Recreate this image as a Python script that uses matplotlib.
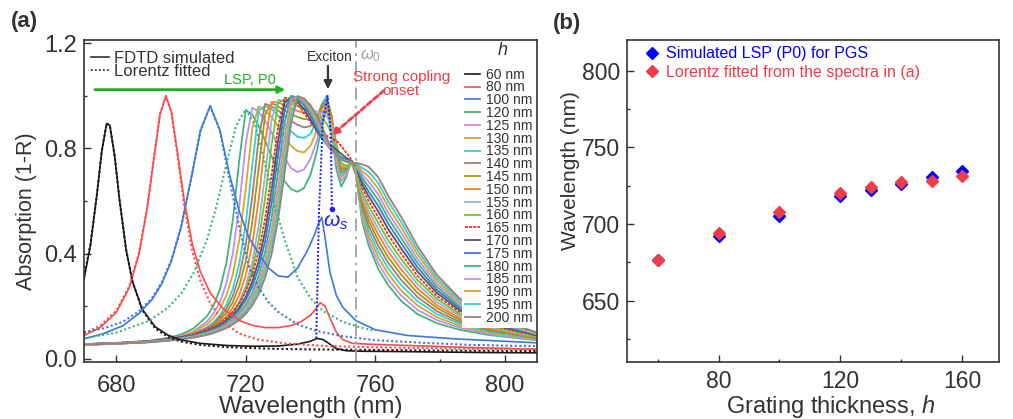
import matplotlib.pyplot as plt
from matplotlib.lines import Line2D
from matplotlib.ticker import MultipleLocator

plt.rcParams['font.family'] = ['Liberation Sans', 'DejaVu Sans']
plt.rcParams['mathtext.fontset'] = 'custom'
plt.rcParams['mathtext.rm'] = 'Liberation Sans'
plt.rcParams['mathtext.it'] = 'Liberation Sans:italic'

# ------------------------------------------------------------------ panel (a) data
wl_60 = [670, 672, 674, 675.5, 677, 678, 679.5, 681, 683, 685, 688, 692, 696, 700, 706,
         714, 722, 730, 736, 740, 742, 744, 746, 748, 751, 756, 765, 780, 795, 810]
abs_60 = [0.302, 0.432, 0.625, 0.79, 0.895, 0.888, 0.77, 0.603, 0.416, 0.293, 0.188, 0.121,
          0.089, 0.071, 0.058, 0.05, 0.047, 0.048, 0.055, 0.066, 0.077, 0.072, 0.055, 0.038,
          0.03, 0.028, 0.027, 0.025, 0.023, 0.022]
wl_60_fit = [670, 672, 674, 675.5, 677, 678, 679.5, 681, 683, 685, 688, 692, 696, 700, 706,
             714, 722, 730, 740, 750, 760, 775, 790, 810]
abs_60_fit = [0.31, 0.435, 0.625, 0.79, 0.895, 0.888, 0.77, 0.603, 0.416, 0.293, 0.185, 0.115,
              0.082, 0.065, 0.052, 0.044, 0.04, 0.037, 0.035, 0.034, 0.033, 0.031, 0.03, 0.029]

wl_80 = [670, 675, 680, 684, 687, 689.5, 691.5, 693.5, 695.3, 697, 699, 701, 703.5, 706, 709,
         713, 718, 722, 726, 730, 734, 737, 740, 742, 743, 744.5, 746, 748, 750, 753, 758, 770,
         790, 810]
abs_80 = [0.088, 0.118, 0.176, 0.27, 0.398, 0.57, 0.752, 0.93, 1.0, 0.94, 0.775, 0.6, 0.435,
          0.33, 0.25, 0.19, 0.145, 0.127, 0.118, 0.118, 0.126, 0.14, 0.165, 0.195, 0.213, 0.2,
          0.155, 0.1, 0.072, 0.058, 0.055, 0.05, 0.042, 0.036]
wl_80_fit = [670, 675, 680, 684, 687, 689.5, 691.5, 693.5, 695.3, 697, 699, 701, 703.5, 706,
             709, 713, 718, 724, 732, 745, 760, 785, 810]
abs_80_fit = [0.095, 0.125, 0.183, 0.275, 0.402, 0.572, 0.754, 0.931, 1.0, 0.938, 0.764, 0.58,
              0.407, 0.295, 0.212, 0.14, 0.095, 0.072, 0.058, 0.048, 0.043, 0.038, 0.035]

wl_100 = [670, 676, 682, 687, 691, 694, 697, 700, 703, 706, 709, 712, 715, 718, 721, 724, 727,
          730, 733, 736, 739, 741, 742.5, 743.5, 744.5, 746, 748, 750, 754, 760, 770, 785, 810]
abs_100 = [0.075, 0.095, 0.125, 0.172, 0.224, 0.284, 0.371, 0.5, 0.677, 0.868, 0.962, 0.87,
           0.7, 0.56, 0.46, 0.4, 0.345, 0.315, 0.31, 0.345, 0.41, 0.465, 0.515, 0.538, 0.46,
           0.33, 0.24, 0.195, 0.145, 0.11, 0.088, 0.075, 0.06]
wl_100_fit = [670, 676, 682, 687, 691, 694, 697, 700, 703, 706, 709, 712, 715, 718, 721, 724,
              727, 730, 736, 742, 750, 760, 775, 790, 810]
abs_100_fit = [0.1, 0.115, 0.14, 0.18, 0.23, 0.29, 0.375, 0.5, 0.68, 0.868, 0.962, 0.868, 0.68,
               0.5, 0.35, 0.27, 0.215, 0.178, 0.13, 0.105, 0.085, 0.07, 0.06, 0.052, 0.047]

wl_120_fit = [670, 680, 690, 696, 700, 704, 708, 711, 714, 717, 720, 723, 726, 729, 732, 736,
              740, 744, 750, 755, 760]
abs_120_fit = [0.077, 0.099, 0.143, 0.194, 0.247, 0.329, 0.453, 0.583, 0.74, 0.887, 0.95,
               0.887, 0.74, 0.583, 0.453, 0.31, 0.23, 0.18, 0.14, 0.12, 0.105]

# exciton marker (blue dotted)
wl_exc = [741.8, 742.6, 743.8, 745.3, 746.3, 746.6]
abs_exc = [0.077, 0.55, 0.9, 1.0, 0.85, 0.57]

# common wavelength grid for h = 120 ... 200 nm
wl_grid = [670, 680, 690, 696, 700, 704, 708, 710, 712, 714, 716, 718, 720, 722, 724, 726, 728,
           730, 732, 734, 736, 738, 740, 742, 743.5, 745, 746.5, 748, 749.5, 751, 752.5, 754,
           756, 758, 761, 764, 768, 773, 779, 786, 795, 810]

abs_120 = [0.055, 0.058, 0.067, 0.079, 0.092, 0.116,
           0.161, 0.201, 0.263, 0.364, 0.527, 0.757, 0.945, 0.93, 0.885, 0.83, 0.77, 0.715,
           0.675, 0.645, 0.635, 0.65, 0.70, 0.79,
           0.89, 0.95, 0.87, 0.72, 0.655, 0.69, 0.75, 0.70,
           0.52, 0.43, 0.34, 0.28, 0.22, 0.17, 0.135, 0.11, 0.09, 0.07]
abs_125 = [0.053, 0.057, 0.065, 0.075, 0.086, 0.105,
           0.141, 0.171, 0.215, 0.286, 0.40, 0.582, 0.82, 0.955, 0.94, 0.905, 0.86, 0.81,
           0.765, 0.725, 0.71, 0.72, 0.76, 0.83,
           0.92, 0.97, 0.89, 0.75, 0.675, 0.70, 0.75, 0.703,
           0.534, 0.449, 0.362, 0.301, 0.24, 0.186, 0.147, 0.118, 0.094, 0.072]
abs_130 = [0.053, 0.057, 0.065, 0.074, 0.084, 0.101,
           0.13, 0.154, 0.189, 0.24, 0.321, 0.451, 0.648, 0.875, 0.96, 0.945, 0.92, 0.885,
           0.845, 0.81, 0.79, 0.785, 0.81, 0.87,
           0.95, 0.99, 0.91, 0.77, 0.69, 0.71, 0.75, 0.706,
           0.548, 0.468, 0.384, 0.323, 0.26, 0.203, 0.158, 0.125, 0.099, 0.074]
abs_135 = [0.053, 0.056, 0.063, 0.072, 0.081, 0.095,
           0.119, 0.138, 0.165, 0.205, 0.266, 0.362, 0.514, 0.733, 0.945, 0.962, 0.95, 0.925,
           0.895, 0.865, 0.845, 0.84, 0.855, 0.91,
           0.97, 1.0, 0.925, 0.79, 0.70, 0.715, 0.75, 0.708,
           0.561, 0.486, 0.406, 0.344, 0.28, 0.219, 0.17, 0.133, 0.103, 0.076]
abs_140 = [0.053, 0.057, 0.064, 0.072, 0.080, 0.094,
           0.116, 0.132, 0.156, 0.189, 0.239, 0.315, 0.434, 0.616, 0.84, 0.97, 0.96, 0.945,
           0.925, 0.905, 0.89, 0.88, 0.885, 0.92,
           0.965, 0.985, 0.925, 0.80, 0.71, 0.72, 0.748, 0.711,
           0.575, 0.505, 0.428, 0.365, 0.30, 0.235, 0.181, 0.14, 0.108, 0.078]
abs_145 = [0.053, 0.057, 0.063, 0.071, 0.079, 0.091,
           0.111, 0.126, 0.146, 0.174, 0.215, 0.277, 0.372, 0.518, 0.727, 0.93, 0.972, 0.96,
           0.945, 0.93, 0.92, 0.912, 0.91, 0.925,
           0.955, 0.97, 0.92, 0.81, 0.72, 0.725, 0.746, 0.714,
           0.589, 0.524, 0.449, 0.386, 0.32, 0.251, 0.193, 0.148, 0.112, 0.079]
abs_150 = [0.053, 0.056, 0.063, 0.07, 0.078, 0.089,
           0.106, 0.119, 0.137, 0.16, 0.194, 0.243, 0.318, 0.434, 0.607, 0.826, 0.978, 0.975,
           0.965, 0.953, 0.943, 0.935, 0.93, 0.93,
           0.94, 0.95, 0.91, 0.82, 0.73, 0.728, 0.745, 0.717,
           0.603, 0.543, 0.471, 0.408, 0.34, 0.268, 0.204, 0.155, 0.116, 0.081]
abs_155 = [0.053, 0.056, 0.063, 0.07, 0.076, 0.086,
           0.102, 0.114, 0.129, 0.149, 0.177, 0.217, 0.277, 0.368, 0.507, 0.703, 0.912, 0.985,
           0.98, 0.97, 0.96, 0.952, 0.945, 0.94,
           0.935, 0.925, 0.885, 0.81, 0.74, 0.732, 0.744, 0.72,
           0.616, 0.561, 0.493, 0.429, 0.36, 0.284, 0.216, 0.163, 0.121, 0.083]
abs_160 = [0.054, 0.058, 0.064, 0.071, 0.078, 0.089,
           0.104, 0.115, 0.13, 0.149, 0.175, 0.21, 0.262, 0.338, 0.451, 0.614, 0.816, 0.973,
           0.988, 0.98, 0.965, 0.95, 0.937, 0.927,
           0.915, 0.895, 0.86, 0.80, 0.745, 0.735, 0.743, 0.723,
           0.63, 0.58, 0.515, 0.45, 0.38, 0.30, 0.228, 0.17, 0.125, 0.085]
abs_165 = [0.055, 0.06, 0.068, 0.075, 0.083, 0.094,
           0.11, 0.121, 0.135, 0.153, 0.178, 0.21, 0.255, 0.318, 0.408, 0.534, 0.702, 0.884,
           0.993, 0.99, 0.97, 0.935, 0.90, 0.87,
           0.857, 0.848, 0.838, 0.83, 0.81, 0.785, 0.76, 0.73,
           0.65, 0.599, 0.537, 0.471, 0.40, 0.316, 0.239, 0.178, 0.129, 0.087]
abs_170 = [0.055, 0.059, 0.066, 0.074, 0.081, 0.09,
           0.105, 0.115, 0.128, 0.145, 0.166, 0.195, 0.235, 0.292, 0.372, 0.486, 0.643, 0.83,
           0.975, 0.995, 0.98, 0.95, 0.91, 0.865,
           0.84, 0.825, 0.81, 0.795, 0.78, 0.765, 0.752, 0.735,
           0.662, 0.618, 0.559, 0.493, 0.42, 0.333, 0.251, 0.185, 0.134, 0.089]
abs_175 = [0.055, 0.059, 0.066, 0.073, 0.079, 0.089,
           0.103, 0.112, 0.124, 0.14, 0.16, 0.186, 0.223, 0.273, 0.345, 0.448, 0.593, 0.776,
           0.946, 1.0, 0.99, 0.965, 0.925, 0.875,
           0.84, 0.815, 0.795, 0.78, 0.768, 0.758, 0.75, 0.738,
           0.675, 0.636, 0.581, 0.514, 0.44, 0.349, 0.262, 0.193, 0.138, 0.091]
abs_180 = [0.054, 0.058, 0.065, 0.071, 0.077, 0.086,
           0.099, 0.107, 0.118, 0.132, 0.15, 0.174, 0.206, 0.251, 0.315, 0.407, 0.538, 0.713,
           0.899, 1.0, 0.995, 0.975, 0.94, 0.89,
           0.85, 0.815, 0.79, 0.772, 0.76, 0.752, 0.748, 0.74,
           0.688, 0.655, 0.603, 0.535, 0.46, 0.365, 0.274, 0.20, 0.143, 0.093]
abs_185 = [0.054, 0.058, 0.064, 0.07, 0.076, 0.084,
           0.097, 0.105, 0.115, 0.128, 0.144, 0.166, 0.195, 0.236, 0.293, 0.375, 0.494, 0.656,
           0.847, 0.986, 0.998, 0.98, 0.948, 0.90,
           0.86, 0.82, 0.792, 0.772, 0.758, 0.75, 0.746, 0.742,
           0.70, 0.674, 0.624, 0.556, 0.48, 0.381, 0.285, 0.208, 0.147, 0.094]
abs_190 = [0.054, 0.058, 0.064, 0.07, 0.075, 0.083,
           0.095, 0.102, 0.112, 0.124, 0.139, 0.16, 0.187, 0.224, 0.277, 0.352, 0.46, 0.611,
           0.80, 0.962, 0.998, 0.985, 0.955, 0.91,
           0.87, 0.83, 0.797, 0.775, 0.76, 0.751, 0.746, 0.743,
           0.713, 0.693, 0.646, 0.578, 0.50, 0.398, 0.297, 0.215, 0.151, 0.096]
abs_195 = [0.054, 0.057, 0.063, 0.069, 0.075, 0.082,
           0.093, 0.10, 0.109, 0.12, 0.135, 0.154, 0.179, 0.214, 0.262, 0.331, 0.429, 0.569,
           0.751, 0.93, 1.0, 0.99, 0.962, 0.92,
           0.878, 0.835, 0.80, 0.777, 0.761, 0.752, 0.747, 0.744,
           0.726, 0.711, 0.668, 0.599, 0.52, 0.414, 0.308, 0.223, 0.156, 0.098]
abs_200 = [0.054, 0.057, 0.062, 0.068, 0.073, 0.08,
           0.09, 0.097, 0.106, 0.116, 0.13, 0.147, 0.17, 0.202, 0.246, 0.309, 0.399, 0.53,
           0.706, 0.896, 0.998, 0.99, 0.965, 0.925,
           0.885, 0.84, 0.80, 0.775, 0.758, 0.75, 0.746, 0.745,
           0.74, 0.73, 0.69, 0.62, 0.54, 0.43, 0.32, 0.23, 0.16, 0.10]

thick_family = [120, 125, 130, 135, 140, 145, 150, 155, 160, 165, 170, 175, 180, 185, 190, 195, 200]
family = [abs_120, abs_125, abs_130, abs_135, abs_140, abs_145, abs_150, abs_155, abs_160,
          abs_165, abs_170, abs_175, abs_180, abs_185, abs_190, abs_195, abs_200]
family_colors = ['#3cb878', '#c58cf2', '#d9a626', '#2ed3d3', '#a47a7a', '#9c9a14', '#ff7d2a',
                 '#8fb3e3', '#6cc92a', '#ff2424', '#555555', '#3a78e0', '#3cb878', '#c58cf2',
                 '#d9a626', '#2ed3d3', '#a47a7a']

# ------------------------------------------------------------------ panel (b) data
h_b = [60, 80, 100, 120, 130, 140, 150, 160]
lsp_sim = [676.5, 692.0, 705.4, 718.5, 722.2, 726.0, 730.4, 734.3]
lsp_fit = [676.5, 693.9, 707.6, 720.0, 723.9, 727.6, 728.2, 731.5]

# ------------------------------------------------------------------ figure
DARK = '#333333'
RED = '#f03c46'
BLUE = '#0000ff'
GREEN = '#22b022'

fig = plt.figure(figsize=(10.13, 4.19), dpi=100)
ax = fig.add_axes([0.0829, 0.136, 0.4472, 0.7685])
axb = fig.add_axes([0.619, 0.136, 0.3672, 0.7685])

dots = (0, (1, 1.2))

# family of spectra
family_handles = []
for h, y, c in zip(thick_family, family, family_colors):
    ls = (0, (1.6, 0.7)) if h == 165 else '-'
    line, = ax.plot(wl_grid, y, color=c, lw=1.3, ls=ls, label=f'{h} nm')
    family_handles.append(line)

# thin gratings: FDTD (solid) + Lorentz fit (dotted)
l60, = ax.plot(wl_60, abs_60, color='#1a1a1a', lw=1.2, label='60 nm')
l80, = ax.plot(wl_80, abs_80, color='#ff4a4a', lw=1.2, label='80 nm')
l100, = ax.plot(wl_100, abs_100, color='#3a78e0', lw=1.2, label='100 nm')
ax.plot(wl_60_fit, abs_60_fit, color='#1a1a1a', lw=1.5, ls=dots)
ax.plot(wl_80_fit, abs_80_fit, color='#ff4a4a', lw=1.5, ls=dots)
ax.plot(wl_100_fit, abs_100_fit, color='#3a78e0', lw=1.5, ls=dots)
ax.plot(wl_120_fit, abs_120_fit, color='#3cb878', lw=1.5, ls=dots)

# exciton line and markers
ax.plot(wl_exc, abs_exc, color='#1a1aff', lw=1.4, ls=(0, (1, 1)))
ax.plot(wl_exc[-1], abs_exc[-1], 'o', color='#1a1aff', ms=3)
ax.text(747.8, 0.52, r'$\omega_s$', color='#1a1aff', fontsize=15, ha='center', va='center')

ax.axvline(754, color='#a0a0a0', lw=1.3, ls=(0, (7, 3, 1.5, 3)))
ax.text(755.3, 1.155, r'$\omega_0$', color='#a0a0a0', fontsize=12, ha='left', va='center')

ax.text(745.9, 1.15, 'Exciton', color=DARK, fontsize=10, ha='center', va='center')
ax.annotate('', xy=(745.4, 1.015), xytext=(745.4, 1.125),
            arrowprops=dict(arrowstyle='-|>', color=DARK, lw=1.6, mutation_scale=12))

ax.text(768.1, 1.045, 'Strong copling\nonset', color=RED, fontsize=11, ha='center',
        va='center', linespacing=0.95)
ax.annotate('', xy=(745.9, 0.843), xytext=(763.4, 1.028),
            arrowprops=dict(arrowstyle='-|>', color=RED, lw=2, ls=(0, (2, 1)),
                            mutation_scale=10))

ax.annotate('', xy=(733.1, 1.024), xytext=(672.5, 1.024),
            arrowprops=dict(arrowstyle='-|>', color=GREEN, lw=2, mutation_scale=10))
ax.text(721.3, 1.06, 'LSP, P0', color=GREEN, fontsize=10.5, ha='center', va='center')

# legends
leg1 = ax.legend([Line2D([], [], color=DARK, lw=1.2), Line2D([], [], color=DARK, lw=1.3, ls=dots)],
                 ['FDTD simulated', 'Lorentz fitted'], loc='upper left',
                 bbox_to_anchor=(0.015, 0.966), fontsize=12, frameon=False, handlelength=1.1,
                 handletextpad=0.3, borderpad=0, borderaxespad=0, labelspacing=-0.11,
                 labelcolor=DARK)
ax.add_artist(leg1)

handles = [l60, l80, l100] + family_handles
ax.legend(handles, [h.get_label() for h in handles], loc='upper left',
          bbox_to_anchor=(0.835, 0.923), fontsize=10, frameon=True, fancybox=False,
          facecolor='white', edgecolor='none', framealpha=1, handlelength=1.1,
          handletextpad=0.4, borderpad=0.2, borderaxespad=0, labelspacing=-0.086,
          labelcolor=DARK)
ax.text(799.3, 1.174, r'$h$', color=DARK, fontsize=13, ha='center', va='center')

ax.set_xlim(670, 810)
ax.set_ylim(-0.013, 1.213)
ax.xaxis.set_major_locator(MultipleLocator(40))
ax.xaxis.set_minor_locator(MultipleLocator(20))
ax.yaxis.set_major_locator(MultipleLocator(0.4))
ax.yaxis.set_minor_locator(MultipleLocator(0.2))
ax.yaxis.set_major_formatter(plt.FuncFormatter(lambda v, p: f'{v:.1f}'))
ax.set_xlabel('Wavelength (nm)', fontsize=17.5, color=DARK)
ax.set_ylabel('Absorption (1-R)', fontsize=15.5, color=DARK)
ax.xaxis.set_label_coords(0.5, -0.104)
ax.yaxis.set_label_coords(-0.104, 0.467)

# ------------------------------------------------------------------ panel (b)
axb.plot(h_b, lsp_sim, 'D', color=BLUE, ms=6, ls='none', label='Simulated LSP (P0) for PGS')
axb.plot(h_b, lsp_fit, 'D', color=RED, ms=6, ls='none',
         label='Lorentz fitted from the spectra in (a)')
axb.legend(loc='upper left', bbox_to_anchor=(0.049, 0.981), fontsize=11.5, frameon=False,
           handlelength=0.8, handletextpad=0.5, labelspacing=0.24, numpoints=1, borderpad=0,
           borderaxespad=0, labelcolor='markerfacecolor')
axb.set_xlim(50, 172)
axb.set_ylim(610, 820)
axb.xaxis.set_major_locator(MultipleLocator(40))
axb.xaxis.set_minor_locator(MultipleLocator(20))
axb.yaxis.set_major_locator(MultipleLocator(50))
axb.yaxis.set_minor_locator(MultipleLocator(25))
axb.set_xlabel('Grating thickness, $h$', fontsize=17, color=DARK)
axb.set_ylabel('Wavelength (nm)', fontsize=15, color=DARK)
axb.xaxis.set_label_coords(0.548, -0.096)
axb.yaxis.set_label_coords(-0.126, 0.594)

for a, size, xpad in ((ax, 17, 9), (axb, 16.5, 6)):
    a.tick_params(which='both', direction='in', colors=DARK, labelsize=size, width=1)
    a.tick_params(which='major', length=5)
    a.tick_params(which='minor', length=2.5)
    a.tick_params(axis='x', pad=xpad)
    a.tick_params(axis='y', pad=5)
    for s in a.spines.values():
        s.set_color(DARK)
        s.set_linewidth(1.2)

fig.text(0.0237, 0.9475, '(a)', fontsize=16, fontweight='bold', color=DARK, ha='center', va='center')
fig.text(0.5594, 0.944, '(b)', fontsize=16, fontweight='bold', color=DARK, ha='center', va='center')

fig.savefig('out.png', dpi=100)
